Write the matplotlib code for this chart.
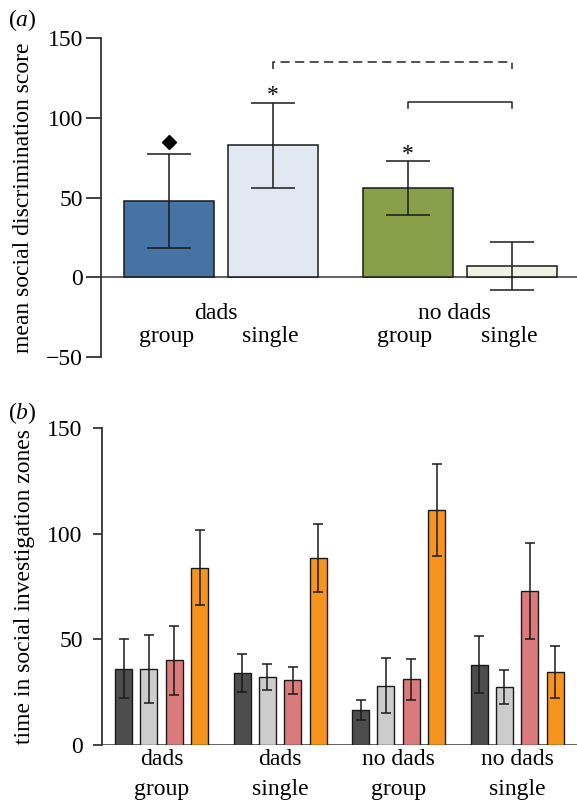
import numpy as np
import matplotlib
matplotlib.use('Agg')
import matplotlib.pyplot as plt

plt.rcParams['font.family'] = ['Liberation Serif', 'DejaVu Serif']
plt.rcParams['mathtext.fontset'] = 'custom'
plt.rcParams['mathtext.it'] = 'Liberation Serif:italic'
plt.rcParams['mathtext.rm'] = 'Liberation Serif'

# Panel (a): mean social discrimination score
a_labels = ['group', 'single', 'group', 'single']
a_groups = ['dads', 'no dads']
a_means = [48, 83, 56, 7]
a_errs = [29.5, 26.7, 16.7, 15]
a_colors = ['#4673a4', '#e1e8f2', '#89a04b', '#eef2e2']

# Panel (b): time in social investigation zones
b_groups = ['dads\ngroup', 'dads\nsingle', 'no dads\ngroup', 'no dads\nsingle']
b_means = [
    [36, 36, 40, 84],
    [34, 32, 30.5, 88.5],
    [16.3, 28, 31, 111.3],
    [38, 27.5, 73, 34.5],
]
b_errs = [
    [14, 16, 16.5, 17.7],
    [9, 6.2, 6.3, 16.3],
    [4.7, 12.9, 9.8, 21.7],
    [13.6, 8.1, 22.8, 12.3],
]
b_colors = ['#4d4d4d', '#cccccc', '#db7a7a', '#f7941d']

FS = 17
W, H = 577, 800
fig = plt.figure(figsize=(W / 100, H / 100), dpi=100)

# ---------------- panel a ----------------
ax = fig.add_axes([0.175, 0.554, 0.825, 0.398])
xa = np.array([0, 1, 2.3, 3.3])
ax.bar(xa, a_means, width=0.867, color=a_colors, edgecolor='#1a1a1a', linewidth=1.1, zorder=2)
ax.errorbar(xa, a_means, yerr=a_errs, fmt='none', ecolor='#1a1a1a', elinewidth=1.1,
            capsize=16, capthick=1.1, zorder=3)
ax.axhline(0, color='#555555', linewidth=1.3, zorder=1)
ax.set_xlim(-0.658, 3.926)
ax.set_ylim(-50, 150)
ax.set_yticks([-50, 0, 50, 100, 150])
ax.set_yticklabels(['\u221250', '0', '50', '100', '150'])
ax.set_xticks([])
for s in ['top', 'right', 'bottom']:
    ax.spines[s].set_visible(False)
ax.spines['left'].set_color('#333333')
ax.spines['left'].set_linewidth(1.3)
ax.tick_params(axis='y', labelsize=FS, length=11, width=1.3, color='#333333', pad=2)
ax.set_ylabel('mean social discrimination score', fontsize=FS)
ax.yaxis.set_label_coords(-0.14, 0.5)

# significance markers
ax.plot(xa[0], 84.7, marker='D', markersize=7, color='black', zorder=4)
ax.text(xa[1], 114, '*', fontsize=FS, ha='center', va='center')
ax.text(xa[2], 77, '*', fontsize=FS, ha='center', va='center')
ax.plot([xa[1], xa[1], xa[3], xa[3]], [130.5, 135, 135, 130.5], color='#222222',
        linewidth=1.1, linestyle=(0, (6, 3.5)))
ax.plot([xa[2], xa[2], xa[3], xa[3]], [106.5, 110, 110, 106.5], color='#222222', linewidth=1.1)

# category labels
for i, lab in enumerate(a_labels):
    ax.text(xa[i] - 0.03, -37, lab, fontsize=FS, ha='center', va='center')
ax.text((xa[0] + xa[1]) / 2 - 0.05, -22.5, a_groups[0], fontsize=FS, ha='center', va='center')
ax.text((xa[2] + xa[3]) / 2 - 0.05, -22.5, a_groups[1], fontsize=FS, ha='center', va='center')

fig.text(8 / W, 1 - 20 / H, r'($\mathit{a}$)', fontsize=FS, ha='left', va='center')

# ---------------- panel b ----------------
bx = fig.add_axes([0.177, 0.0691, 0.823, 0.3955])
gpitch = 4.684
for j in range(4):
    xs = [g * gpitch + j for g in range(4)]
    vals = [b_means[g][j] for g in range(4)]
    errs = [b_errs[g][j] for g in range(4)]
    bx.bar(xs, vals, width=0.67, color=b_colors[j], edgecolor='#1a1a1a', linewidth=1.0, zorder=2)
    bx.errorbar(xs, vals, yerr=errs, fmt='none', ecolor='#1a1a1a', elinewidth=1.1,
                capsize=3.4, capthick=1.1, zorder=3)
bx.axhline(0, color='#555555', linewidth=1.3, zorder=1)
bx.set_xlim(-0.85, 17.92)
bx.set_ylim(0, 150)
bx.set_yticks([0, 50, 100, 150])
bx.set_xticks([g * gpitch + 1.5 for g in range(4)])
bx.set_xticklabels(b_groups, fontsize=FS, linespacing=1.6)
for s in ['top', 'right', 'bottom']:
    bx.spines[s].set_visible(False)
bx.spines['left'].set_color('#333333')
bx.spines['left'].set_linewidth(1.3)
bx.tick_params(axis='y', labelsize=FS, length=6.5, width=1.3, color='#333333', pad=7.5)
bx.tick_params(axis='x', length=0, pad=3)
bx.set_ylabel('time in social investigation zones', fontsize=FS)
bx.yaxis.set_label_coords(-0.142, 0.5)

fig.text(8 / W, 1 - 413 / H, r'($\mathit{b}$)', fontsize=FS, ha='left', va='center')

fig.savefig('out.png', dpi=100)
